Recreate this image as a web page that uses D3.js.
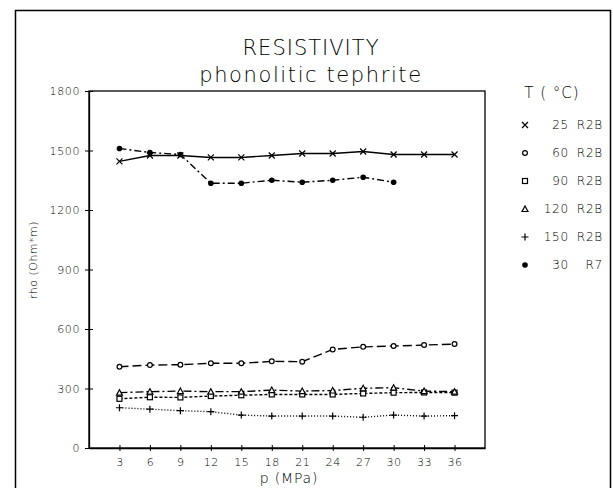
<!DOCTYPE html>
<html>
<head>
<meta charset="utf-8">
<script src="https://cdn.jsdelivr.net/npm/d3@7"></script>
<style>
  body { margin: 0; background: #fff; }
  text { font-family: "DejaVu Sans", sans-serif; font-weight: 300; fill: #000; }
</style>
</head>
<body>
<div id="chart"></div>
<script>
// pressure steps (MPa)
var pressure = [3, 6, 9, 12, 15, 18, 21, 24, 27, 30, 33, 36];
var pressureR7 = [3, 6, 9, 12, 15, 18, 21, 24, 27, 30];

// rho (Ohm*m)
var rho25 = [1445, 1475, 1475, 1465, 1465, 1475, 1485, 1485, 1495, 1480, 1480, 1480];
var rho60 = [410, 418, 420, 427, 427, 437, 435, 497, 510, 514, 519, 524];
var rho90 = [248, 256, 255, 262, 266, 270, 270, 270, 275, 279, 280, 279];
var rho120 = [279, 284, 287, 284, 284, 292, 287, 290, 301, 304, 287, 284];
var rho150 = [203, 196, 188, 183, 166, 161, 161, 161, 155, 166, 161, 163];
var rho30r7 = [1510, 1490, 1480, 1335, 1335, 1350, 1340, 1350, 1365, 1340];

var xTicks = [3, 6, 9, 12, 15, 18, 21, 24, 27, 30, 33, 36];
var yTicks = [0, 300, 600, 900, 1200, 1500, 1800];

var series = [
  {temp: "25", run: "R2B", xs: pressure, ys: rho25, marker: "cross", dash: null},
  {temp: "60", run: "R2B", xs: pressure, ys: rho60, marker: "circle", dash: "9,4"},
  {temp: "90", run: "R2B", xs: pressure, ys: rho90, marker: "square", dash: "3,2"},
  {temp: "120", run: "R2B", xs: pressure, ys: rho120, marker: "triangle", dash: "8,3,2,3"},
  {temp: "150", run: "R2B", xs: pressure, ys: rho150, marker: "plus", dash: "1,2"},
  {temp: "30", run: "R7", xs: pressureR7, ys: rho30r7, marker: "dot", dash: "7,3,2,3"}
];

var width = 613, height = 488;

var svg = d3.select("#chart").append("svg")
  .attr("width", width)
  .attr("height", height);

// outer frame
svg.append("rect")
  .attr("x", 15.5).attr("y", 10.5)
  .attr("width", 595).attr("height", 490)
  .attr("fill", "none").attr("stroke", "#000").attr("stroke-width", 1.5);

var x = d3.scaleLinear().domain([0, 39]).range([89, 485]);
var y = d3.scaleLinear().domain([0, 1800]).range([448, 91]);

// plot box
svg.append("rect")
  .attr("x", x(0)).attr("y", y(1800))
  .attr("width", x(39) - x(0)).attr("height", y(0) - y(1800))
  .attr("fill", "none").attr("stroke", "#000").attr("stroke-width", 1.3);

// axes
var xAxis = svg.append("g")
  .attr("transform", "translate(0," + y(0) + ")")
  .call(d3.axisBottom(x).tickValues(xTicks).tickFormat(d3.format("d")).tickSize(6).tickSizeOuter(0));
xAxis.selectAll(".tick line").attr("y1", -3).attr("y2", 3);
xAxis.selectAll(".tick text").attr("y", 10);

var yAxis = svg.append("g")
  .attr("transform", "translate(" + x(0) + ",0)")
  .call(d3.axisLeft(y).tickValues(yTicks).tickFormat(d3.format("d")).tickSize(6).tickSizeOuter(0));
yAxis.selectAll(".tick line").attr("x1", -4).attr("x2", 4);
yAxis.selectAll(".tick text").attr("x", -9);

svg.selectAll(".domain").attr("stroke-width", 1.3);
svg.selectAll(".tick text")
  .style("font-family", "DejaVu Sans, sans-serif")
  .style("font-weight", 300)
  .style("font-size", "11px")
  .style("letter-spacing", "0.6px");

// titles
svg.append("text")
  .attr("x", 311).attr("y", 55)
  .attr("text-anchor", "middle")
  .style("font-size", "21px")
  .style("letter-spacing", "1px")
  .text("RESISTIVITY");
svg.append("text")
  .attr("x", 311).attr("y", 82)
  .attr("text-anchor", "middle")
  .style("font-size", "21px")
  .style("letter-spacing", "1.6px")
  .text("phonolitic tephrite");

svg.append("text")
  .attr("x", 289).attr("y", 483)
  .attr("text-anchor", "middle")
  .style("font-size", "14px")
  .style("letter-spacing", "0.8px")
  .text("p (MPa)");

svg.append("text")
  .attr("transform", "translate(37,260) rotate(-90)")
  .attr("text-anchor", "middle")
  .style("font-size", "11px")
  .style("letter-spacing", "0.5px")
  .text("rho (Ohm*m)");

// marker shapes
function drawMarker(sel, type, px, py) {
  if (type === "cross") {
    sel.append("path").attr("d", "M" + (px - 3) + "," + (py - 3) + "L" + (px + 3) + "," + (py + 3) +
      "M" + (px - 3) + "," + (py + 3) + "L" + (px + 3) + "," + (py - 3))
      .attr("stroke", "#000").attr("stroke-width", 1.2);
  } else if (type === "plus") {
    sel.append("path").attr("d", "M" + (px - 3.5) + "," + py + "L" + (px + 3.5) + "," + py +
      "M" + px + "," + (py - 3.5) + "L" + px + "," + (py + 3.5))
      .attr("stroke", "#000").attr("stroke-width", 1.2);
  } else if (type === "circle") {
    sel.append("circle").attr("cx", px).attr("cy", py).attr("r", 2.4)
      .attr("fill", "#fff").attr("stroke", "#000").attr("stroke-width", 1.2);
  } else if (type === "square") {
    sel.append("rect").attr("x", px - 2.5).attr("y", py - 2.5).attr("width", 5).attr("height", 5)
      .attr("fill", "#fff").attr("stroke", "#000").attr("stroke-width", 1.2);
  } else if (type === "triangle") {
    sel.append("path").attr("d", "M" + px + "," + (py - 3) + "L" + (px + 3) + "," + (py + 2.5) +
      "L" + (px - 3) + "," + (py + 2.5) + "Z")
      .attr("fill", "#fff").attr("stroke", "#000").attr("stroke-width", 1.2);
  } else if (type === "dot") {
    sel.append("circle").attr("cx", px).attr("cy", py).attr("r", 2.8).attr("fill", "#000");
  }
}

var line = d3.line()
  .x(d => x(d[0]))
  .y(d => y(d[1]));

series.forEach(function(s) {
  var pts = s.xs.map((p, i) => [p, s.ys[i]]);
  svg.append("path")
    .datum(pts)
    .attr("d", line)
    .attr("fill", "none")
    .attr("stroke", "#000")
    .attr("stroke-width", 1.4)
    .attr("stroke-dasharray", s.dash);
  var g = svg.append("g");
  pts.forEach(d => drawMarker(g, s.marker, x(d[0]), y(d[1])));
});

// legend
svg.append("text")
  .attr("x", 552).attr("y", 98)
  .attr("text-anchor", "middle")
  .style("font-size", "15px")
  .style("letter-spacing", "1px")
  .text("T ( \u00B0C)");

series.forEach(function(s, i) {
  var ly = 125 + i * 28;
  var g = svg.append("g");
  drawMarker(g, s.marker, 525, ly);
  g.append("text")
    .attr("x", 569).attr("y", ly + 4)
    .attr("text-anchor", "end")
    .style("font-size", "12px")
    .style("letter-spacing", "0.8px")
    .text(s.temp);
  g.append("text")
    .attr("x", 603).attr("y", ly + 4)
    .attr("text-anchor", "end")
    .style("font-size", "12px")
    .style("letter-spacing", "0.8px")
    .text(s.run);
});
</script>
</body>
</html>
